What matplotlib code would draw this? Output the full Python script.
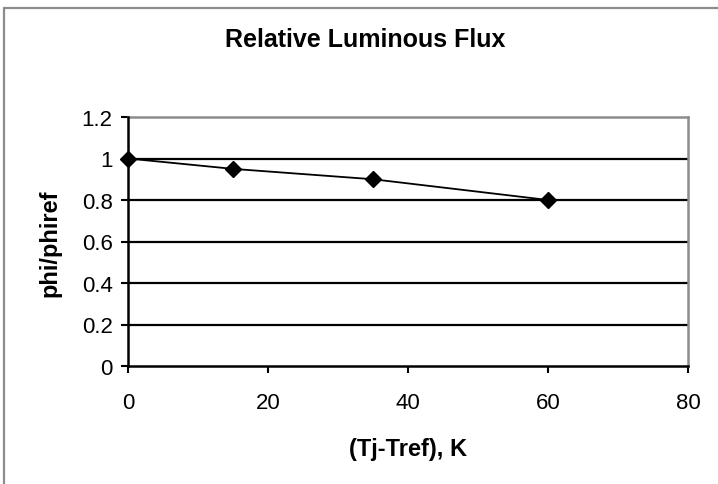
import matplotlib
matplotlib.use('Agg')
import matplotlib.pyplot as plt
from matplotlib.patches import Rectangle

# data
dT = [0, 15, 35, 60]
phi_rel = [1.0, 0.95, 0.9, 0.8]
xticks = [0, 20, 40, 60, 80]
yticks = [0, 0.2, 0.4, 0.6, 0.8, 1, 1.2]
ylabels = ['0', '0.2', '0.4', '0.6', '0.8', '1', '1.2']

plt.rcParams['font.family'] = ['Liberation Sans', 'DejaVu Sans']

fig = plt.figure(figsize=(7.18, 4.85), dpi=100)
W, H = 718, 485
# outer chart border (Excel-style)
fig.patches.append(Rectangle((4 / W, -0.1), 1.2, 1 - 9 / H + 0.1, transform=fig.transFigure,
                             fill=False, edgecolor='#8c8c8c', linewidth=1.6))

ax = fig.add_axes([128 / W, 1 - 367 / H, (688 - 128) / W, (367 - 118) / H])
ax.set_xlim(0, 80)
ax.set_ylim(0, 1.2)

for y in yticks[1:-1]:
    ax.axhline(y, color='black', linewidth=1.6, zorder=1)

ax.plot(dT, phi_rel, color='black', linewidth=1.3, marker='D', markersize=8, zorder=3,
        clip_on=False)

ax.set_xticks(xticks)
ax.set_yticks(yticks)
ax.set_yticklabels(ylabels)
ax.tick_params(axis='both', labelsize=16, length=5, width=1.5, color='black')
ax.tick_params(axis='x', pad=14)
ax.tick_params(axis='y', pad=6)

for s in ['left', 'bottom']:
    ax.spines[s].set_color('black')
    ax.spines[s].set_linewidth(1.8)
for s in ['top', 'right']:
    ax.spines[s].set_color('#8c8c8c')
    ax.spines[s].set_linewidth(1.8)
ax.spines['left'].set_zorder(4)
ax.spines['bottom'].set_zorder(4)

fig.text(408 / W, 1 - 450 / H, '(Tj-Tref), K', fontsize=17, fontweight='bold',
         ha='center', va='center')
fig.text(50 / W, 1 - 243 / H, 'phi/phiref', fontsize=17, fontweight='bold',
         ha='center', va='center', rotation=90)
fig.text(365 / W, 1 - 40 / H, 'Relative Luminous Flux', fontsize=18, fontweight='bold',
         ha='center', va='center')

fig.savefig('out.png', dpi=100)
